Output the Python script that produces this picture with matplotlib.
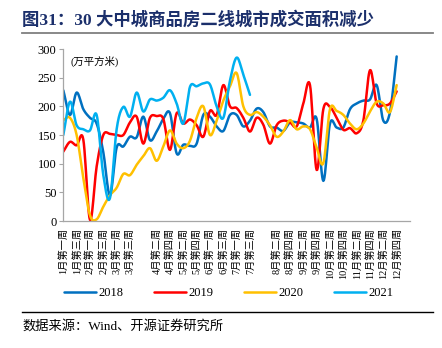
import numpy as np
import matplotlib
matplotlib.use("Agg")
import matplotlib.pyplot as plt
from matplotlib.lines import Line2D

plt.rcParams['font.family'] = ['Liberation Serif', 'Noto Sans CJK SC']

# ==== Data (weekly, 万平方米) ====

tick_labels = ['1月第一周', '1月第三周', '2月第一周', '2月第三周', '3月第一周', '3月第三周', '',
               '4月第二周', '4月第四周', '5月第二周', '5月第四周', '6月第一周', '6月第三周',
               '7月第一周', '7月第三周', '',
               '8月第二周', '8月第四周', '9月第二周', '9月第四周', '10月第二周', '10月第四周',
               '11月第二周', '11月第四周', '12月第二周', '12月第四周']

s2018 = [228, 185, 224, 195, 180, 170, 120, 45, 128, 130, 147, 146, 182, 141, 156, 178, 188,
         118, 133, 131, 135, 185, 182, 165, 157, 185, 185, 165, 175, 196, 190, 165, 163, 157,
         172, 172, 170, 163, 178, 70, 170, 163, 163, 195, 205, 210, 212, 237, 175, 190, 287]
s2019 = [121, 138, 132, 142, 2, 95, 150, 152, 150, 150, 172, 182, 135, 180, 183, 178, 124,
         188, 170, 177, 167, 147, 192, 185, 237, 200, 197, 180, 156, 180, 168, 135, 167, 175,
         172, 165, 205, 237, 89, 195, 199, 180, 159, 162, 153, 175, 263, 205, 202, 205, 226]
s2020 = [176, 180, 150, 75, 10, 3, 25, 45, 58, 82, 80, 98, 113, 127, 105, 130, 158, 135, 127,
         140, 180, 200, 150, 175, 210, 235, 258, 200, 185, 190, 182, 167, 147, 156, 176, 160,
         165, 160, 128, 101, 195, 192, 185, 170, 160, 170, 191, 208, 205, 190, 237]
s2021 = [150, 208, 167, 160, 158, 185, 80, 40, 160, 199, 182, 224, 191, 212, 210, 215, 228,
         205, 170, 234, 235, 240, 238, 200, 180, 245, 285, 255, 220]

series = [('2018', s2018, '#0070C0'), ('2019', s2019, '#FF0000'),
          ('2020', s2020, '#FFC000'), ('2021', s2021, '#00B0F0')]


def smooth_line(y, steps=12):
    """Catmull-Rom curve through the weekly points, like Excel's smoothed line."""
    y = np.asarray(y, float)
    x = np.arange(len(y))
    p = np.concatenate([[2 * y[0] - y[1]], y, [2 * y[-1] - y[-2]]])
    t = np.linspace(0, 1, steps, endpoint=False)
    xs, ys = [], []
    for i in range(len(y) - 1):
        p0, p1, p2, p3 = p[i:i + 4]
        yy = 0.5 * (2 * p1 + (-p0 + p2) * t + (2 * p0 - 5 * p1 + 4 * p2 - p3) * t ** 2
                    + (-p0 + 3 * p1 - 3 * p2 + p3) * t ** 3)
        xs.append(x[i] + t)
        ys.append(yy)
    xs.append([x[-1]])
    ys.append([y[-1]])
    return np.concatenate(xs), np.concatenate(ys)


# ==== Plot ====

fig = plt.figure(figsize=(4.42, 3.48), dpi=100)
ax = fig.add_axes([63.3 / 442, 1 - 221 / 348, (410 - 63.3) / 442, (221 - 49) / 348])

for name, vals, color in series:
    xs, ys = smooth_line(vals)
    ax.plot(xs, ys, color=color, lw=1.8, label=name, solid_capstyle='round')

ax.set_xlim(0, 52)
ax.set_ylim(0, 300)
ax.set_yticks(range(0, 301, 50))
ax.tick_params(axis='y', labelsize=9, length=3, width=0.8, color='#A6A6A6', pad=2)
ax.set_xticks(range(0, 2 * len(tick_labels), 2))
ax.set_xticklabels(tick_labels, rotation=90, fontsize=7.4, va='top', ha='center')
ax.tick_params(axis='x', length=0, pad=5)

for side in ['top', 'right']:
    ax.spines[side].set_visible(False)
for side in ['left', 'bottom']:
    ax.spines[side].set_color('#A6A6A6')
    ax.spines[side].set_linewidth(0.9)

ax.text(0.02, 0.93, '(万平方米)', transform=ax.transAxes, fontsize=7.5, va='center')

fig.legend(loc='center', bbox_to_anchor=(0.517, 1 - 293 / 348), ncol=4, frameon=False,
           fontsize=9, handlelength=2.6, handletextpad=0.2, columnspacing=2.4)

# title, rules and source note
fig.text(0.05, 1 - 20 / 348, '图31：30 大中城商品房二线城市成交面积减少', fontsize=12.5,
         fontweight='bold', color='#1B2F6B', va='center', ha='left')
fig.add_artist(Line2D([0.05, 0.98], [1 - 33 / 348] * 2, color='#7F7F7F', lw=1.3))
fig.add_artist(Line2D([0.05, 0.98], [1 - 312 / 348] * 2, color='#000000', lw=1.0))
fig.text(0.05, 1 - 326 / 348, '数据来源：Wind、开源证券研究所', fontsize=9.5, va='center', ha='left')

fig.savefig('out.png', dpi=100)
